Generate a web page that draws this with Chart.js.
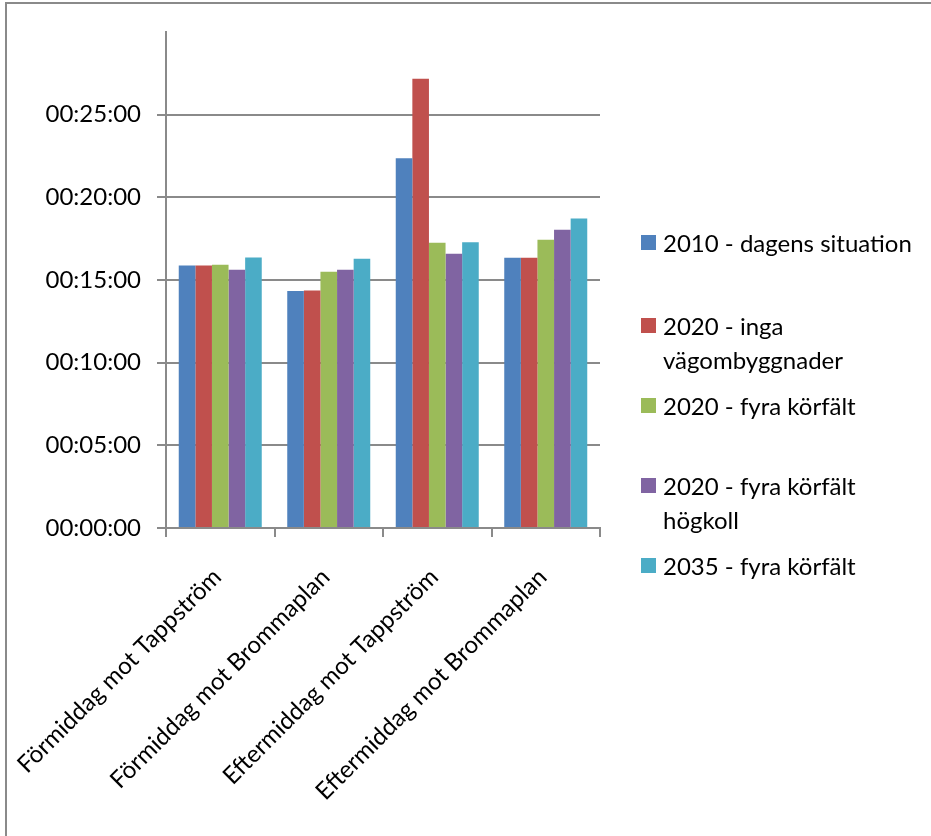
<!DOCTYPE html>
<html>
<head>
<meta charset="utf-8">
<script src="https://cdn.jsdelivr.net/npm/chart.js@4/dist/chart.umd.min.js"></script>
<style>
  html, body { margin: 0; padding: 0; background: #fff; }
  #wrap { position: relative; width: 931px; height: 836px; overflow: hidden; }
  #frame { position: absolute; left: 5px; top: 2px; width: 1000px; height: 1000px;
    border-left: 2px solid #8a8a8a; border-top: 2px solid #8a8a8a; }
  canvas { position: absolute; left: 0; top: 0; }
  #legend { position: absolute; left: 0; top: 0; font-family: Lato, sans-serif; font-size: 24px; color: #000; }
  .item { position: absolute; left: 641px; white-space: nowrap; line-height: 34px; }
  .box { position: absolute; left: 0; top: 9px; width: 15px; height: 15px; }
  .txt { position: absolute; left: 22px; top: 0; }
</style>
</head>
<body>
<div id="wrap">
  <div id="frame"></div>
  <canvas id="chart" width="931" height="836"></canvas>
  <div id="legend"></div>
</div>
<script>
// travel times in seconds
var categories = ["Förmiddag mot Tappström", "Förmiddag mot Brommaplan", "Eftermiddag mot Tappström", "Eftermiddag mot Brommaplan"]
var seriesNames = [["2010 - dagens situation"], ["2020 - inga", "vägombyggnader"], ["2020 - fyra körfält"], ["2020 - fyra körfält", "högkoll"], ["2035 - fyra körfält"]]
var s2010 = [953, 860, 1342, 981]
var s2020inga = [953, 862, 1630, 981]
var s2020fyra = [955, 930, 1035, 1046]
var s2020hog = [937, 937, 995, 1082]
var s2035 = [982, 977, 1037, 1123]
var colors = ["#4F81BD", "#C0504D", "#9BBB59", "#8064A2", "#4BACC6"]
var legendTops = [226, 309, 389, 469, 549]

var allSeries = [s2010, s2020inga, s2020fyra, s2020hog, s2035]

function fmt(sec) {
  var h = Math.floor(sec / 3600)
  var m = Math.floor((sec % 3600) / 60)
  var s = Math.round(sec % 60)
  var p = function (n) { return (n < 10 ? "0" : "") + n }
  return p(h) + ":" + p(m) + ":" + p(s)
}

var datasets = allSeries.map(function (d, i) {
  return {
    label: seriesNames[i].join(" "),
    data: d,
    backgroundColor: colors[i],
    borderWidth: 0,
    barPercentage: 1,
    categoryPercentage: 0.765,
  }
})

var legend = document.getElementById("legend")
seriesNames.forEach(function (name, i) {
  var el = document.createElement("div")
  el.className = "item"
  el.style.top = legendTops[i] + "px"
  el.innerHTML = '<div class="box" style="background:' + colors[i] + '"></div><div class="txt">' + name.join("<br>") + "</div>"
  legend.appendChild(el)
})

Chart.defaults.font.family = "Lato, sans-serif"
Chart.defaults.color = "#000"

var ctx = document.getElementById("chart").getContext("2d")
var myChart = new Chart(ctx, {
  type: "bar",
  data: { labels: categories, datasets: datasets },
  options: {
    responsive: false,
    animation: false,
    layout: { padding: { left: 0, right: 331, top: 32, bottom: 0 } },
    plugins: { legend: { display: false }, tooltip: { enabled: false } },
    scales: {
      x: {
        grid: { offset: true, drawOnChartArea: false, color: "#8a8a8a", lineWidth: 2, tickLength: 9 },
        border: { color: "#8a8a8a", width: 2 },
        ticks: { font: { size: 24 }, minRotation: 45, maxRotation: 45, padding: 26, labelOffset: -3 },
        afterFit: function (scale) {
          scale.height = 308
          scale.paddingLeft = 0
          scale.paddingRight = 0
        },
      },
      y: {
        min: 0,
        max: 1800,
        ticks: {
          stepSize: 300,
          font: { size: 24 },
          padding: 16,
          callback: function (v) { return v >= 1800 ? "" : fmt(v) },
        },
        grid: {
          color: function (c) { return c.tick && c.tick.value >= 1800 ? "rgba(0,0,0,0)" : "#8a8a8a" },
          lineWidth: 2,
          tickLength: 9,
        },
        border: { color: "#8a8a8a", width: 2 },
        afterFit: function (scale) { scale.width = 166 },
      },
    },
  },
})
</script>
</body>
</html>
